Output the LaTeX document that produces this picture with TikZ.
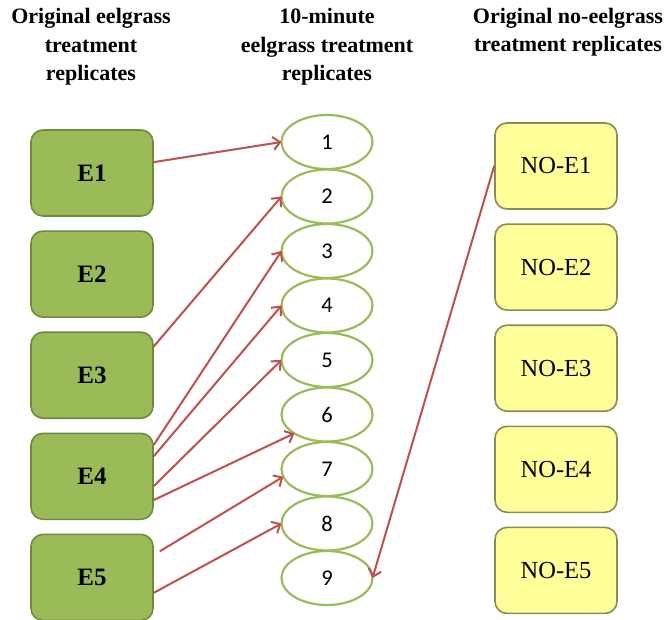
\documentclass[tikz,border=0pt]{standalone}
\usepackage{fontspec}
\setmainfont{Liberation Serif}
\newfontfamily\numfont{Carlito}
\usetikzlibrary{shapes,positioning,arrows.meta}
\definecolor{grassfill}{HTML}{9BBB59}
\definecolor{grassline}{HTML}{71893F}
\definecolor{barefill}{HTML}{FFFF99}
\definecolor{bareline}{HTML}{8C8A5C}
\definecolor{linkred}{HTML}{C0504D}

\begin{document}
\begin{tikzpicture}[
    heading/.style = {align=center, font=\bfseries\fontsize{22}{28.5}\selectfont},
    grass/.style = {rectangle, rounded corners=12pt, draw=grassline, line width=1.6pt, fill=grassfill, minimum width=122pt, minimum height=86pt, font=\bfseries\fontsize{25}{28}\selectfont},
    bare/.style = {rectangle, rounded corners=12pt, draw=bareline, line width=1.6pt, fill=barefill, minimum width=122pt, minimum height=86pt, font=\fontsize{24.5}{28}\selectfont},
    rep/.style = {ellipse, draw=grassfill, line width=2.2pt, fill=white, minimum width=91pt, minimum height=54pt, inner sep=0pt, outer sep=0pt, font=\numfont\fontsize{22.5}{24}\selectfont},
    link/.style = {-{Straight Barb[length=7pt,width=13pt]}, draw=linkred, line width=2pt}
    ]
    \useasboundingbox (0,0) rectangle (666pt,-619pt);

    \node[heading] (hgrass) at (91pt,-47pt) {Original eelgrass\\treatment\\replicates};
    \node[heading] (hten) at (327pt,-47pt) {10-minute\\eelgrass treatment\\replicates};
    \node[heading] (hbare) at (568pt,-32pt) {Original no-eelgrass\\treatment replicates};

    \node[grass] (E1) at (92pt,-173pt) {E1};
    \node[grass, below=13.5pt of E1] (E2) {E2};
    \node[grass, below=13.5pt of E2] (E3) {E3};
    \node[grass, below=13.5pt of E3] (E4) {E4};
    \node[grass, below=13.5pt of E4] (E5) {E5};

    \node[rep] (t1) at (327pt,-142pt) {1};
    \node[rep, below=0.5pt of t1] (t2) {2};
    \node[rep, below=0.5pt of t2] (t3) {3};
    \node[rep, below=0.5pt of t3] (t4) {4};
    \node[rep, below=0.5pt of t4] (t5) {5};
    \node[rep, below=0.5pt of t5] (t6) {6};
    \node[rep, below=0.5pt of t6] (t7) {7};
    \node[rep, below=0.5pt of t7] (t8) {8};
    \node[rep, below=0.5pt of t8] (t9) {9};

    \node[bare] (NOE1) at (556pt,-166pt) {NO-E1};
    \node[bare, below=13.5pt of NOE1] (NOE2) {NO-E2};
    \node[bare, below=13.5pt of NOE2] (NOE3) {NO-E3};
    \node[bare, below=13.5pt of NOE3] (NOE4) {NO-E4};
    \node[bare, below=13.5pt of NOE4] (NOE5) {NO-E5};

    \draw[link] (E1.10) -- (t1.west);
    \draw[link] (E3.25) -- (t2.west);
    \draw[link] (E4.27) -- (t3.west);
    \draw[link] (E4.18) -- (t4.west);
    \draw[link] (E4.-9) -- (t5.west);
    \draw[link] (E4.-21) -- (t6.210);
    \draw[link, shorten <=7pt] (E5.20) -- (t7.190);
    \draw[link] (E5.-14) -- (t8.west);
    \draw[link] (NOE1.west) -- (t9.east);
  \end{tikzpicture}
\end{document}
